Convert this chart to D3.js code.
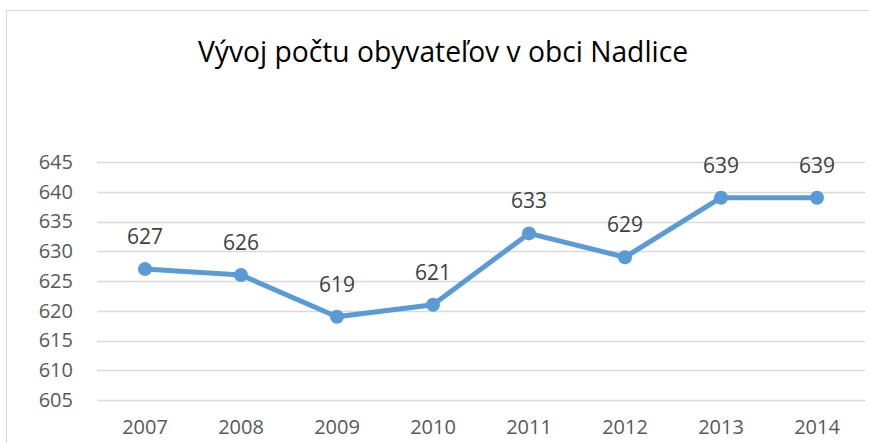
<!DOCTYPE html>
<html><head><meta charset="utf-8">
<script src="https://cdn.jsdelivr.net/npm/d3@7"></script>
<style>body{margin:0;background:#fff}svg{display:block}</style>
</head><body>
<script>
const years = ["2007","2008","2009","2010","2011","2012","2013","2014"];
const population = [627, 626, 619, 621, 633, 629, 639, 639];
const yTicks = [605, 610, 615, 620, 625, 630, 635, 640, 645];
const title = "Vývoj počtu obyvateľov v obci Nadlice";

const W = 869, H = 443;
const svg = d3.select("body").append("svg").attr("width", W).attr("height", H);
svg.append("rect").attr("x", 6.5).attr("y", 10.5).attr("width", 880).attr("height", 460)
  .attr("fill", "#fff").attr("stroke", "#d9d9d9").attr("stroke-width", 1);

const font = "'Open Sans', sans-serif";
svg.append("text").attr("x", 443).attr("y", 62).attr("text-anchor", "middle")
  .attr("font-family", font).attr("font-size", 30).attr("fill", "#000")
  .attr("textLength", 490).attr("lengthAdjust", "spacingAndGlyphs").text(title);

const x = d3.scaleBand().domain(years).range([97, 865]);
const y = d3.scaleLinear().domain([605, 645]).range([400, 162]);

const grid = svg.append("g");
grid.selectAll("line").data(yTicks).join("line")
  .attr("x1", 97).attr("x2", 865)
  .attr("y1", d => Math.round(y(d)) + 0.5).attr("y2", d => Math.round(y(d)) + 0.5)
  .attr("stroke", "#d9d9d9").attr("stroke-width", 1.5);

const yAxis = svg.append("g").attr("transform", "translate(97,0)")
  .call(d3.axisLeft(y).tickValues(yTicks).tickSize(0).tickPadding(24));
yAxis.select(".domain").remove();
yAxis.selectAll("text").attr("font-family", font).attr("font-size", 20).attr("fill", "#595959");

const xAxis = svg.append("g").attr("transform", "translate(0,400)")
  .call(d3.axisBottom(x).tickSize(0).tickPadding(20));
xAxis.select(".domain").remove();
xAxis.selectAll("text").attr("font-family", font).attr("font-size", 20).attr("fill", "#595959");

const cx = (d, i) => x(years[i]) + x.bandwidth() / 2;
const line = d3.line().x((d, i) => cx(d, i)).y(d => y(d));
svg.append("path").datum(population).attr("d", line)
  .attr("fill", "none").attr("stroke", "#5b9bd5").attr("stroke-width", 5).attr("stroke-linejoin", "round");
svg.append("g").selectAll("circle").data(population).join("circle")
  .attr("cx", cx).attr("cy", d => y(d)).attr("r", 7).attr("fill", "#5b9bd5");
svg.append("g").selectAll("text").data(population).join("text")
  .attr("x", cx).attr("y", d => y(d) - 25).attr("text-anchor", "middle")
  .attr("font-family", font).attr("font-size", 21).attr("fill", "#404040").text(d => d);
</script>
</body></html>
